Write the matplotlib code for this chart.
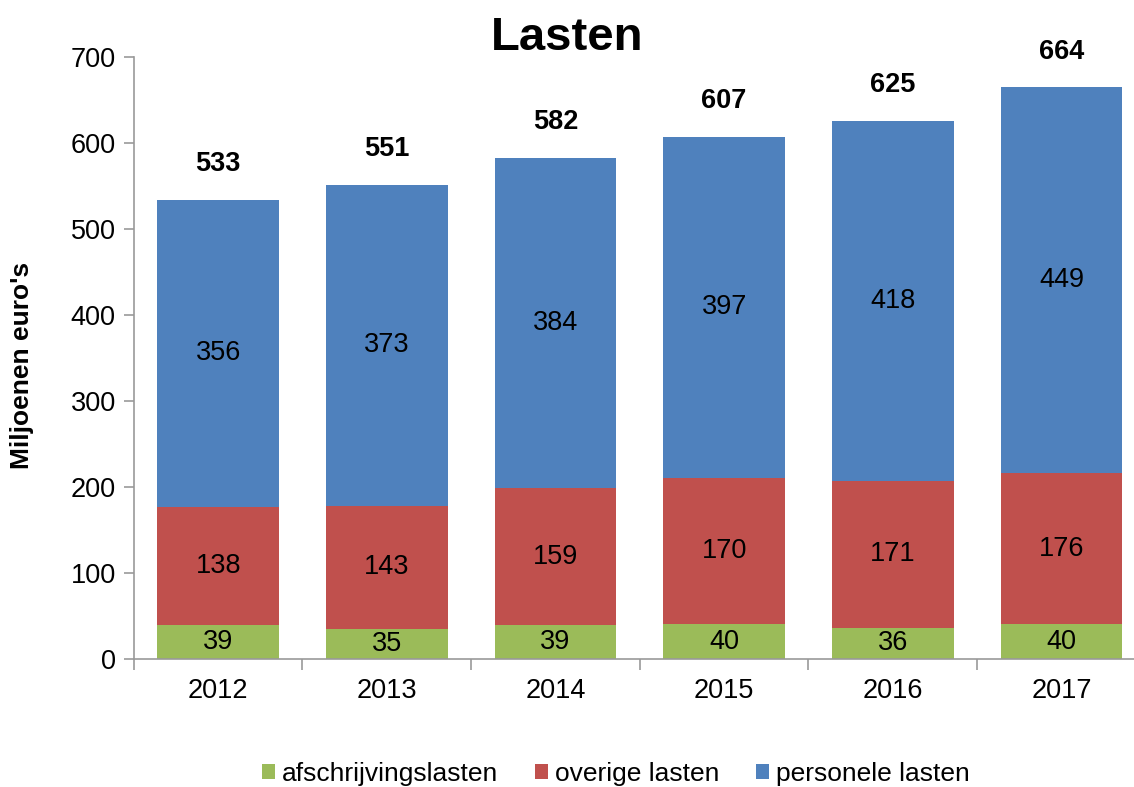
import numpy as np
import matplotlib.pyplot as plt

years = ['2012', '2013', '2014', '2015', '2016', '2017']
afschrijvingslasten = [39, 35, 39, 40, 36, 40]
overige_lasten = [138, 143, 159, 170, 171, 176]
personele_lasten = [356, 373, 384, 397, 418, 449]
totals = [533, 551, 582, 607, 625, 664]

plt.rcParams['font.family'] = ['Liberation Sans', 'DejaVu Sans']

fig = plt.figure(figsize=(11.34, 7.87), dpi=100)
ax = fig.add_axes([0.118, 0.163, 0.8924, 0.7649])

x = np.arange(len(years))
width = 0.72
series = [
    ('afschrijvingslasten', afschrijvingslasten, '#9BBB59'),
    ('overige lasten', overige_lasten, '#C0504D'),
    ('personele lasten', personele_lasten, '#4F81BD'),
]
bottom = np.zeros(len(years))
for name, vals, color in series:
    bars = ax.bar(x, vals, width, bottom=bottom, color=color, label=name)
    ax.bar_label(bars, labels=[str(v) for v in vals], label_type='center', fontsize=19.5)
    bottom += np.array(vals)

for xi, t in zip(x, totals):
    ax.text(xi, t + 42, str(t), ha='center', va='center', fontsize=19.5,
            fontweight='bold', clip_on=False)

ax.set_xlim(-0.5, len(years) - 0.5)
ax.set_ylim(0, 700)
ax.set_yticks(range(0, 701, 100))
ax.set_xticks(x)
ax.set_xticklabels(years)
ax.set_xticks(np.arange(-0.5, len(years), 1), minor=True)
ax.tick_params(axis='x', which='major', length=0, labelsize=19.5, pad=14)
ax.tick_params(axis='x', which='minor', length=8, color='#999999', width=1.2)
ax.tick_params(axis='y', length=7, color='#999999', width=1.2, labelsize=19.5, pad=6)

for s in ['top', 'right']:
    ax.spines[s].set_visible(False)
for s in ['left', 'bottom']:
    ax.spines[s].set_color('#999999')
    ax.spines[s].set_linewidth(1.2)

fig.text(22 / 1134, 1 - 365 / 787, "Miljoenen euro's", rotation=90, ha='center',
         va='center', fontsize=19, fontweight='bold')
fig.text(0.5, 0.952, 'Lasten', ha='center', va='center', fontsize=34, fontweight='bold')

fig.legend(loc='center', bbox_to_anchor=(0.543, 0.017), ncol=3, frameon=False,
           fontsize=19, handlelength=0.5, handleheight=0.5, handletextpad=0.25,
           columnspacing=1.4)

fig.savefig('out.png', dpi=100)
